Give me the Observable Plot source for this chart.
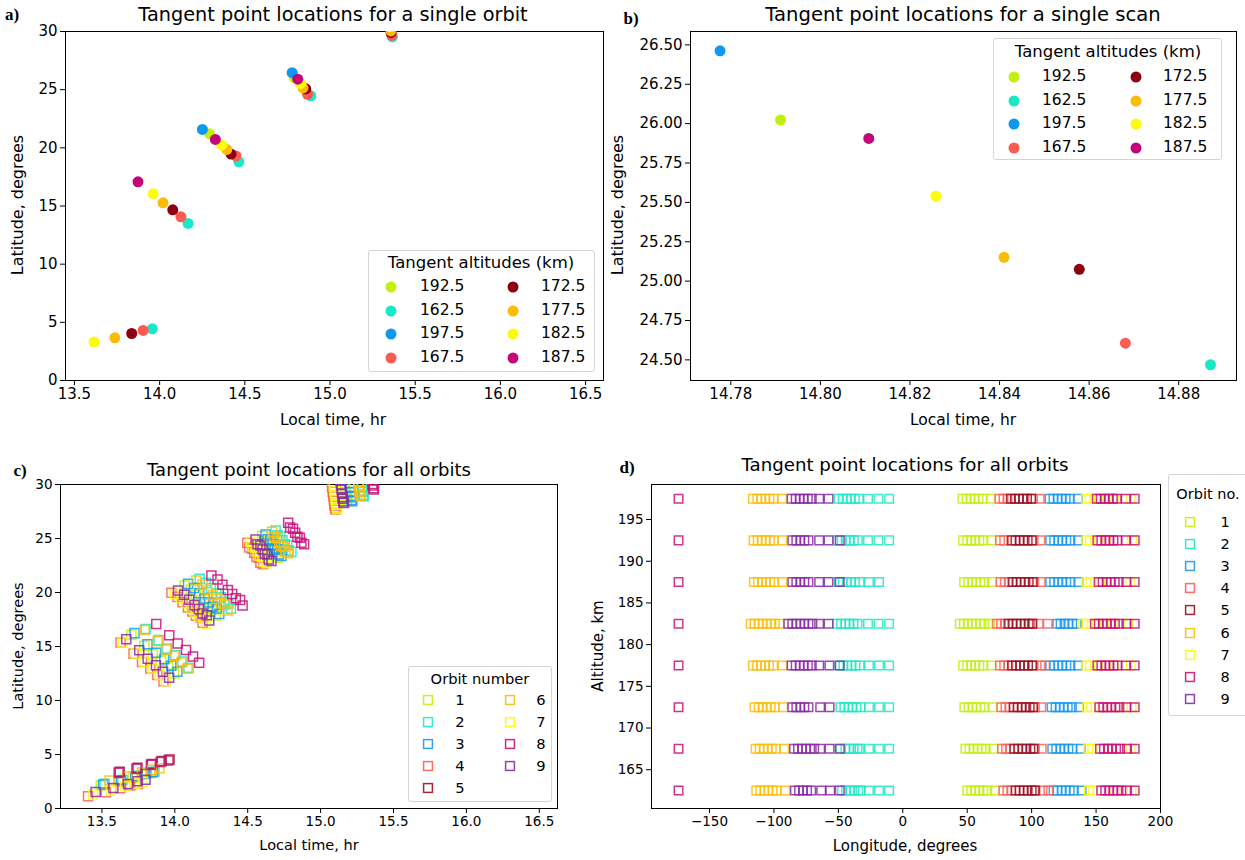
<!DOCTYPE html>
<html><head><meta charset="utf-8">
<script src="https://cdn.jsdelivr.net/npm/d3@7"></script>
<script src="https://cdn.jsdelivr.net/npm/@observablehq/plot@0.6"></script>
<style>
body{margin:0;background:#fff;}
#root{position:relative;width:1245px;height:860px;font-family:"DejaVu Sans",sans-serif;color:#000;overflow:hidden;background:#fff}
.abs{position:absolute;white-space:nowrap;line-height:1}
.leg{position:absolute;border:1px solid #d4d4d4;border-radius:3px;background:rgba(255,255,255,0.85);box-sizing:border-box}
</style></head><body><div id="root"></div>
<script>
// ---------------- DATA ----------------
// Panels a, b: tangent altitudes (legend order)
const scanAltitudes = ["192.5","162.5","197.5","167.5","172.5","177.5","182.5","187.5"];
const altitudeColors = ["#c2f00c","#17e8c8","#0f98f0","#fb5b52","#8c000f","#fbbc05","#fbfb0a","#c3077a"];
// a) single orbit: local time and latitude per altitude
const orbitLocalTime = [
  [14.293, 14.7911, 15.346],
  [13.957, 14.167, 14.465, 14.8871, 15.366],
  [14.251, 14.7776, 15.342],
  [13.903, 14.125, 14.448, 14.8681, 15.362],
  [13.836, 14.077, 14.419, 14.8578, 15.358],
  [13.737, 14.020, 14.394, 14.8410, 15.357],
  [13.615, 13.962, 14.364, 14.8258, 15.354],
  [13.873, 14.327, 14.8108, 15.350]
];
const orbitLatitude = [
  [21.20, 26.023, 31.2],
  [4.44, 13.50, 18.80, 24.469, 29.54],
  [21.58, 26.462, 31.6],
  [4.30, 14.07, 19.30, 24.606, 29.66],
  [4.04, 14.67, 19.46, 25.075, 29.92],
  [3.67, 15.27, 19.86, 25.151, 30.05],
  [3.30, 16.05, 20.23, 25.539, 30.4],
  [17.08, 20.72, 25.906, 30.8]
];
// b) single scan
const scanLocalTime = [14.7911, 14.8871, 14.7776, 14.8681, 14.8578, 14.8410, 14.8258, 14.8108];
const scanLatitude  = [26.023, 24.469, 26.462, 24.606, 25.075, 25.151, 25.539, 25.906];

// Panels c, d: orbits
const orbitNumbers = [1,2,3,4,5,6,7,8,9];
const orbitColors = ["#c2f00c","#1de8c6","#1799ee","#fb5f57","#9a1025","#fbbd0a","#fbfb10","#c8117e","#8a2aa5"];
// c) [local time, latitude] for each orbit
const orbit1Tangents = [[13.492,2.12],[13.614,2.49],[13.713,2.86],[13.780,3.12],[13.834,3.26],
  [13.702,16.09],[13.791,15.06],[13.849,14.28],[13.906,13.68],[13.954,13.08],[13.996,12.51],
  [14.068,20.65],[14.110,20.27],[14.144,19.79],[14.181,19.30],[14.211,18.93],[14.236,18.53],[14.265,18.37],[14.282,17.87],
  [14.600,25.22],[14.613,24.78],[14.633,24.67],[14.648,24.30],[14.663,23.91],[14.680,23.84],[14.690,23.37],[14.709,23.23],
  [15.159,30.51],[15.163,30.11],[15.167,29.71],[15.171,29.31],[15.174,28.96],[15.175,28.83],[15.179,28.57],[15.183,28.45]];
const orbit2Tangents = [[13.519,2.28],[13.641,2.65],[13.740,3.02],[13.807,3.28],[13.861,3.42],
  [13.800,16.62],[13.889,15.59],[13.947,14.81],[14.004,14.21],[14.052,13.61],[14.094,13.04],
  [14.171,21.27],[14.213,20.89],[14.247,20.41],[14.284,19.92],[14.314,19.55],[14.339,19.15],[14.368,18.99],[14.385,18.49],
  [14.691,25.75],[14.704,25.31],[14.724,25.20],[14.739,24.83],[14.754,24.44],[14.771,24.37],[14.781,23.90],[14.800,23.76],
  [15.273,30.98],[15.277,30.58],[15.281,30.18],[15.285,29.78],[15.288,29.43],[15.289,29.30],[15.293,29.04],[15.297,28.92]];
const orbit3Tangents = [[13.508,2.22],[13.630,2.59],[13.729,2.96],[13.796,3.22],[13.850,3.36],
  [13.724,16.24],[13.813,15.21],[13.871,14.43],[13.928,13.83],[13.976,13.23],[14.018,12.66],
  [14.091,20.80],[14.133,20.42],[14.167,19.94],[14.204,19.45],[14.234,19.08],[14.259,18.68],[14.288,18.52],[14.305,18.02],
  [14.623,25.37],[14.636,24.93],[14.656,24.82],[14.671,24.45],[14.686,24.06],[14.703,23.99],[14.713,23.52],[14.732,23.38],
  [15.193,30.51],[15.197,30.11],[15.201,29.71],[15.205,29.31],[15.208,28.96],[15.209,28.83],[15.213,28.57],[15.217,28.45]];
const orbit4Tangents = [[13.405,1.13],[13.527,1.50],[13.626,1.87],[13.693,2.13],[13.747,2.27],
  [13.628,15.37],[13.717,14.34],[13.775,13.56],[13.832,12.96],[13.880,12.36],[13.922,11.79],
  [13.977,19.97],[14.019,19.59],[14.053,19.11],[14.090,18.62],[14.120,18.25],[14.145,17.85],[14.174,17.69],[14.191,17.19],
  [14.497,24.60],[14.510,24.16],[14.530,24.05],[14.545,23.68],[14.560,23.29],[14.577,23.22],[14.587,22.75],[14.606,22.61],
  [15.079,29.74],[15.083,29.34],[15.087,28.94],[15.091,28.54],[15.094,28.19],[15.095,28.06],[15.099,27.80],[15.103,27.68]];
const orbit5Tangents = [[13.622,3.39],[13.744,3.76],[13.843,4.13],[13.910,4.39],[13.964,4.53]];
const orbit6Tangents = [[13.553,2.59],[13.675,2.96],[13.774,3.33],[13.841,3.59],[13.895,3.73],
  [13.793,16.52],[13.882,15.49],[13.940,14.71],[13.997,14.11],[14.045,13.51],[14.087,12.94],
  [14.148,21.12],[14.190,20.74],[14.224,20.26],[14.261,19.77],[14.291,19.40],[14.316,19.00],[14.345,18.84],[14.362,18.34],
  [14.668,25.62],[14.681,25.18],[14.701,25.07],[14.716,24.70],[14.731,24.31],[14.748,24.24],[14.758,23.77],[14.777,23.63],
  [15.251,30.98],[15.255,30.58],[15.259,30.18],[15.263,29.78],[15.266,29.43],[15.267,29.30],[15.271,29.04],[15.275,28.92]];
const orbit7Tangents = [[13.439,1.29],[13.561,1.66],[13.660,2.03],[13.727,2.29],[13.781,2.43],
  [13.644,15.37],[13.733,14.34],[13.791,13.56],[13.848,12.96],[13.896,12.36],[13.938,11.79],
  [14.000,19.87],[14.042,19.49],[14.076,19.01],[14.113,18.52],[14.143,18.15],[14.168,17.75],[14.197,17.59],[14.214,17.09],
  [14.520,24.69],[14.533,24.25],[14.553,24.14],[14.568,23.77],[14.583,23.38],[14.600,23.31],[14.610,22.84],[14.629,22.70],
  [15.091,29.80],[15.095,29.40],[15.099,29.00],[15.103,28.60],[15.106,28.25],[15.107,28.12],[15.111,27.86],[15.115,27.74]];
const orbit8Tangents = [[13.615,3.30],[13.737,3.67],[13.836,4.04],[13.903,4.30],[13.957,4.44],
  [13.873,17.08],[13.962,16.05],[14.020,15.27],[14.077,14.67],[14.125,14.07],[14.167,13.50],
  [14.251,21.58],[14.293,21.20],[14.327,20.72],[14.364,20.23],[14.394,19.86],[14.419,19.46],[14.448,19.30],[14.465,18.80],
  [14.7776,26.462],[14.7911,26.023],[14.8108,25.906],[14.8258,25.539],[14.8410,25.151],[14.8578,25.075],[14.8681,24.606],[14.8871,24.469],
  [15.342,31.6],[15.346,31.2],[15.350,30.8],[15.354,30.4],[15.357,30.05],[15.358,29.92],[15.362,29.66],[15.366,29.54]];
const orbit9Tangents = [[13.457,1.53],[13.579,1.90],[13.678,2.27],[13.745,2.53],[13.799,2.67],
  [13.667,15.68],[13.756,14.65],[13.814,13.87],[13.871,13.27],[13.919,12.67],[13.961,12.10],
  [14.022,20.18],[14.064,19.80],[14.098,19.32],[14.135,18.83],[14.165,18.46],[14.190,18.06],[14.219,17.90],[14.236,17.40],
  [14.554,24.91],[14.567,24.47],[14.587,24.36],[14.602,23.99],[14.617,23.60],[14.634,23.53],[14.644,23.06],[14.663,22.92],
  [15.136,30.36],[15.140,29.96],[15.144,29.56],[15.148,29.16],[15.151,28.81],[15.152,28.68],[15.156,28.42],[15.160,28.30]];
const orbitTangents = [orbit1Tangents, orbit2Tangents, orbit3Tangents, orbit4Tangents, orbit5Tangents,
  orbit6Tangents, orbit7Tangents, orbit8Tangents, orbit9Tangents];

// d) longitudes per altitude row, for each orbit
const rowAltitudes = [197.5, 192.5, 187.5, 182.5, 177.5, 172.5, 167.5, 162.5];
const orbit1Longitudes = [
  [46.3,49.5,52.6,55.7,58.8,62.0,68.2],[46.8,50.0,53.1,56.2,59.4,62.5,68.7],
  [47.6,50.8,53.9,57.0,60.2,63.3,69.0],[44.2,47.4,50.5,53.6,56.8,59.9,63.0,67.7],
  [46.8,50.0,53.1,56.2,59.4,62.5,68.7],[47.8,51.0,54.1,57.2,60.4,63.5,69.5],
  [48.6,51.8,54.9,58.0,61.2,64.3,70.3],[50.0,53.1,56.2,59.4,62.5,65.6,71.3]];
const orbit2Longitudes = [
  [-49.7,-46.6,-43.5,-40.3,-37.2,-34.1,-27.0,-18.9,-10.6],[-50.5,-47.4,-44.3,-41.1,-38.0,-34.9,-27.0,-18.9,-10.6],
  [-49.7,-46.6,-43.5,-40.3,-37.2,-33.5,-26.2,-18.4],[-51.0,-47.9,-44.5,-41.4,-38.2,-35.1,-27.0,-18.9,-10.6],
  [-49.2,-46.1,-43.0,-39.8,-36.7,-33.5,-26.2,-18.4,-10.6],[-48.4,-45.3,-42.2,-39.0,-35.9,-32.8,-26.2,-18.4,-10.6],
  [-48.4,-44.5,-41.4,-38.2,-35.1,-33.5,-26.2,-18.4,-10.6],[-47.1,-44.0,-40.9,-37.7,-34.6,-32.8,-26.2,-18.4,-10.6]];
const orbit3Longitudes = [
  [113.9,117.0,120.2,123.3,126.4,129.6,135.8],[114.4,117.5,120.7,123.8,126.9,130.1,136.0],
  [114.4,117.5,120.7,123.8,126.9,130.1,136.3],[119.9,122.5,125.5,128.5,131.5,135.0],
  [114.4,117.5,120.7,123.8,126.9,130.1,136.0],[115.5,118.6,121.8,124.9,128.0,131.2,136.8],
  [116.0,119.1,122.3,125.4,128.5,131.7,138.0],[117.0,120.1,123.3,126.4,129.5,132.7,138.8]];
const orbit4Longitudes = [
  [75.0,78.2,81.3,101.0,106.3],[75.5,78.7,101.5,106.8],
  [76.0,79.2,82.3,102.0,107.0],[73.0,76.2,79.3,100.5,105.5,112.5],
  [75.5,78.7,81.8,101.5,106.8,110.5],[76.5,79.7,82.8,102.5,107.5],
  [77.0,80.2,83.3,102.5,107.8],[78.0,81.2,84.3,103.0,108.5,113.0]];
const orbit5Longitudes = [
  [83.9,87.0,90.2,93.3,96.4,99.6],[84.4,87.5,90.7,93.8,96.9,100.1],
  [85.2,88.3,91.5,94.6,97.7,100.9],[82.0,85.2,88.3,91.5,94.6,97.7,100.5],
  [84.7,87.8,91.0,94.1,97.2,100.4],[86.0,89.1,92.3,95.4,98.5,101.2],
  [86.5,89.6,92.8,95.9,99.0,101.5],[87.5,90.6,93.8,96.9,100.0,102.5]];
const orbit6Longitudes = [
  [-116.3,-112.9,-109.8,-106.6,-103.5,-100.4,-93.6],[-115.8,-112.6,-109.5,-106.4,-103.2,-100.1,-93.4],
  [-115.5,-112.4,-109.2,-106.1,-103.0,-99.8,-93.5],[-118.1,-115.0,-111.8,-108.7,-105.6,-102.5,-99.3,-95.4],
  [-116.3,-113.1,-110.0,-106.9,-103.8,-100.6,-93.3],[-115.0,-111.8,-108.7,-105.6,-102.5,-99.3,-92.8],
  [-114.2,-111.1,-107.9,-104.8,-101.7,-98.5,-92.0],[-113.7,-110.5,-107.4,-104.3,-101.1,-98.0,-91.2]];
const orbit7Longitudes = [
  [142.1,144.8,152.0,164.0,177.0],[142.5,145.2,152.5,158.0,178.0],
  [142.5,145.5,153.0,176.5],[140.0,143.0,150.5,163.0,175.0],
  [142.5,145.2,151.5,164.5,177.0],[143.0,146.0,155.0,167.0,177.5],
  [144.0,147.0,160.0,177.0],[144.5,147.5,165.0,177.5]];
const orbit8Longitudes = [
  [-174,150.5,153.6,156.7,159.9,163.0,166.1,173.0,180.0],[-174,151.0,154.1,157.2,160.4,163.5,166.6,173.0,180.0],
  [-174,152.0,155.1,158.2,161.4,164.5,167.6,173.5,180.0],[-174,149.0,152.1,155.2,158.4,161.5,164.6,167.7,173.5,180.0],
  [-174,151.0,154.1,157.2,160.4,163.5,166.6,173.0,180.0],[-174,152.5,155.6,158.7,161.9,165.0,168.1,173.5,180.0],
  [-174,153.0,156.1,159.2,162.4,165.5,168.6,174.0,180.0],[-174,154.0,157.1,160.2,163.4,166.5,169.6,174.0,180.0]];
const orbit9Longitudes = [
  [-86.3,-83.1,-80.0,-76.9,-73.7,-70.6,-64.9,-57.6],[-85.7,-82.6,-79.5,-76.4,-73.2,-64.9,-57.6,-48.9],
  [-85.7,-82.6,-79.5,-76.4,-73.2,-64.9,-57.6,-48.9],[-88.9,-85.7,-82.6,-79.5,-76.4,-73.2,-70.1,-64.9,-57.6],
  [-86.3,-83.1,-80.0,-76.9,-73.7,-70.6,-64.9,-57.0,-48.9],[-85.7,-82.6,-79.5,-76.4,-73.2,-64.1,-56.8],
  [-84.4,-81.3,-78.2,-75.0,-71.9,-68.8,-64.1,-56.8,-48.9],[-83.7,-80.5,-77.4,-74.3,-71.1,-63.3,-56.3,-48.9]];
const orbitLongitudes = [orbit1Longitudes, orbit2Longitudes, orbit3Longitudes, orbit4Longitudes, orbit5Longitudes,
  orbit6Longitudes, orbit7Longitudes, orbit8Longitudes, orbit9Longitudes];

// tick values
const timeTicks = [13.5, 14.0, 14.5, 15.0, 15.5, 16.0, 16.5];
const latTicks = [0, 5, 10, 15, 20, 25, 30];
const scanTimeTicks = [14.78, 14.80, 14.82, 14.84, 14.86, 14.88];
const scanLatTicks = [24.50, 24.75, 25.00, 25.25, 25.50, 25.75, 26.00, 26.25, 26.50];
const lonTicks = [-150, -100, -50, 0, 50, 100, 150, 200];
const altTicks = [165, 170, 175, 180, 185, 190, 195];

// ---------------- LAYOUT HELPERS ----------------
const root = document.getElementById("root");
function styleFor(size) {
  return {fontFamily: "DejaVu Sans, sans-serif", fontSize: size + "px", color: "#000", background: "transparent", overflow: "visible"};
}
function addPlot(x0, y0, w, h, frame, fontSize, opts) {
  const [fl, ft, fr, fb] = frame;
  const svg = Plot.plot({
    width: w, height: h,
    marginLeft: fl - x0, marginTop: ft - y0, marginRight: x0 + w - fr, marginBottom: y0 + h - fb,
    style: styleFor(fontSize),
    ...opts
  });
  const wrap = document.createElement("div");
  wrap.className = "abs";
  wrap.style.left = x0 + "px"; wrap.style.top = y0 + "px";
  wrap.append(svg);
  root.append(wrap);
}
function addText(str, x, y, size, extra = {}) {
  const d = document.createElement("div");
  d.className = "abs";
  d.textContent = str;
  Object.assign(d.style, {left: x + "px", top: y + "px", fontSize: size + "px", transform: "translate(-50%,-50%)"}, extra);
  root.append(d);
  return d;
}
function marker(shape, color, x, y) {
  const ns = "http://www.w3.org/2000/svg";
  const s = document.createElementNS(ns, "svg");
  s.setAttribute("width", 16); s.setAttribute("height", 16);
  s.style.position = "absolute"; s.style.left = (x - 8) + "px"; s.style.top = (y - 8) + "px";
  let el;
  if (shape === "circle") {
    el = document.createElementNS(ns, "circle");
    el.setAttribute("cx", 8); el.setAttribute("cy", 8); el.setAttribute("r", 5.5); el.setAttribute("fill", color);
  } else {
    el = document.createElementNS(ns, "rect");
    el.setAttribute("x", 3.6); el.setAttribute("y", 3.6); el.setAttribute("width", 8.8); el.setAttribute("height", 8.8);
    el.setAttribute("fill", "none"); el.setAttribute("stroke", color); el.setAttribute("stroke-width", 1.5);
    el.setAttribute("stroke-opacity", 0.9);
  }
  s.append(el);
  root.append(s);
}
function addLegend(box, title, titlePos, titleSize, labels, colors, shape, cols) {
  const b = document.createElement("div");
  b.className = "leg";
  Object.assign(b.style, {left: box[0] + "px", top: box[1] + "px", width: (box[2] - box[0]) + "px", height: (box[3] - box[1]) + "px"});
  root.append(b);
  addText(title, titlePos[0], titlePos[1], titleSize);
  const {rows, y0, dy, markerX, labelX, align, size} = cols;
  labels.forEach((lab, i) => {
    const c = Math.floor(i / rows), r = i % rows;
    const y = y0 + r * dy;
    marker(shape, colors[i], markerX[c], y);
    const t = addText(String(lab), labelX[c], y, size);
    if (align === "left") t.style.transform = "translate(0,-50%)";
  });
}

const axisOpts = {tickSize: 5, tickPadding: 3, label: null};

// ---------------- PANEL a ----------------
const marksA = [Plot.frame({stroke: "#000"})];
scanAltitudes.forEach((alt, i) => {
  const pts = orbitLocalTime[i].map((t, j) => ({t, lat: orbitLatitude[i][j]}));
  marksA.push(Plot.dot(pts, {x: "t", y: "lat", r: 5.5, fill: altitudeColors[i], clip: true}));
});
addPlot(0, 0, 620, 440, [65, 31, 603, 380], 15, {
  x: {domain: [13.4475, 16.605], ticks: timeTicks, tickFormat: d3.format(".1f"), ...axisOpts},
  y: {domain: [0, 30], ticks: latTicks, tickFormat: d3.format("d"), ...axisOpts},
  marks: marksA
});

// ---------------- PANEL b ----------------
const marksB = [Plot.frame({stroke: "#000"})];
scanAltitudes.forEach((alt, i) => {
  marksB.push(Plot.dot([{t: scanLocalTime[i], lat: scanLatitude[i]}], {x: "t", y: "lat", r: 5.5, fill: altitudeColors[i]}));
});
addPlot(625, 0, 620, 440, [690, 31, 1236, 380], 15, {
  x: {domain: [14.771, 14.8929], ticks: scanTimeTicks, tickFormat: d3.format(".2f"), ...axisOpts},
  y: {domain: [24.369, 26.585], ticks: scanLatTicks, tickFormat: d3.format(".2f"), ...axisOpts},
  marks: marksB
});

// ---------------- PANEL c ----------------
const marksC = [Plot.frame({stroke: "#000"})];
orbitNumbers.forEach((o, k) => {
  const pts = orbitTangents[k].map(([t, lat]) => ({t, lat}));
  marksC.push(Plot.dot(pts, {x: "t", y: "lat", symbol: "square", r: 5.1, fill: "none",
    stroke: orbitColors[k], strokeWidth: 1.5, strokeOpacity: 0.85, clip: true}));
});
addPlot(0, 440, 620, 420, [60, 484, 557, 808], 13.5, {
  x: {domain: [13.216, 16.625], ticks: timeTicks, tickFormat: d3.format(".1f"), ...axisOpts},
  y: {domain: [0, 30], ticks: latTicks, tickFormat: d3.format("d"), ...axisOpts},
  marks: marksC
});

// ---------------- PANEL d ----------------
const marksD = [Plot.frame({stroke: "#000"})];
orbitNumbers.forEach((o, k) => {
  const pts = [];
  orbitLongitudes[k].forEach((row, r) => row.forEach(lon => pts.push({lon, alt: rowAltitudes[r]})));
  marksD.push(Plot.dot(pts, {x: "lon", y: "alt", symbol: "square", r: 4.8, fill: "none",
    stroke: orbitColors[k], strokeWidth: 1.5, strokeOpacity: 0.85}));
});
addPlot(590, 440, 655, 420, [651, 484, 1160, 808], 13.5, {
  x: {domain: [-195, 200], ticks: lonTicks, tickFormat: d3.format("d"), ...axisOpts},
  y: {domain: [160.35, 199.2], ticks: altTicks, tickFormat: d3.format("d"), ...axisOpts},
  marks: marksD
});

// ---------------- TEXT ----------------
const serifBold = {fontFamily: "Liberation Serif, DejaVu Serif, serif", fontWeight: "bold"};
addText("a)", 12, 14, 17, serifBold);
addText("b)", 631, 18, 17, serifBold);
addText("c)", 20, 470, 17, serifBold);
addText("d)", 627, 467, 17, serifBold);

addText("Tangent point locations for a single orbit", 333, 15, 19.3);
addText("Tangent point locations for a single scan", 963, 15, 19.6);
addText("Tangent point locations for all orbits", 309, 470, 18);
addText("Tangent point locations for all orbits", 905, 465, 18.2);

const rot = {transform: "translate(-50%,-50%) rotate(-90deg)"};
addText("Latitude, degrees", 18, 205, 16, rot);
addText("Local time, hr", 333, 421, 15.5);
addText("Latitude, degrees", 618, 205, 16, rot);
addText("Local time, hr", 963, 421, 15.5);
addText("Latitude, degrees", 18, 646, 14.5, rot);
addText("Local time, hr", 309, 845, 14.5);
addText("Altitude, km", 598, 646, 15, rot);
addText("Longitude, degrees", 905, 846, 15);

// ---------------- LEGENDS ----------------
addLegend([368, 250, 595, 372], "Tangent altitudes (km)", [481, 263], 16.5, scanAltitudes, altitudeColors, "circle",
  {rows: 4, y0: 287, dy: 23.5, markerX: [391, 513], labelX: [420, 541], align: "left", size: 15.5});
addLegend([993, 38, 1222, 160], "Tangent altitudes (km)", [1108, 52], 16.5, scanAltitudes, altitudeColors, "circle",
  {rows: 4, y0: 77, dy: 23.5, markerX: [1014, 1136], labelX: [1042, 1163], align: "left", size: 15.5});
addLegend([408, 666, 552, 802], "Orbit number", [480, 679], 14.7, orbitNumbers, orbitColors, "square",
  {rows: 5, y0: 700, dy: 21.9, markerX: [428, 510], labelX: [460, 541], align: "center", size: 14.7});
addLegend([1168, 474, 1252, 716], "Orbit no.", [1208, 494], 14.5, orbitNumbers, orbitColors, "square",
  {rows: 9, y0: 522, dy: 22.1, markerX: [1190], labelX: [1225], align: "center", size: 14.5});
</script></body></html>
